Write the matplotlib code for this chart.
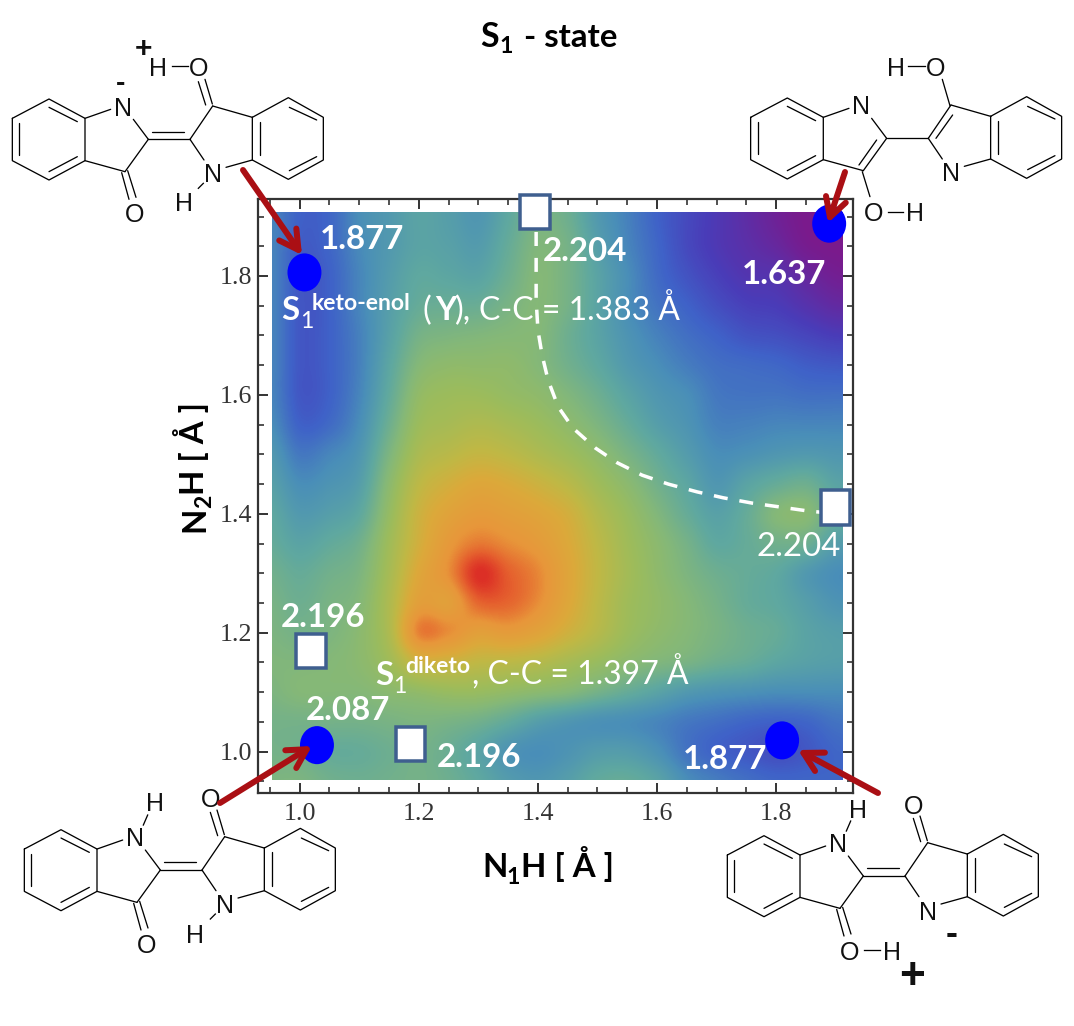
import numpy as np
import matplotlib
matplotlib.use('Agg')
import matplotlib.pyplot as plt
from matplotlib.colors import LinearSegmentedColormap
from matplotlib.patches import Ellipse, Rectangle
from matplotlib.ticker import MultipleLocator

# colour position of the surface, rows from N2H=1.90 down to N2H=0.95, columns N1H=0.95 to 1.90
surface = [
    [.28, .20, .21, .30, .34, .38, .36, .33, .40, .47, .44, .34, .27, .20, .15, .11, .07, .03, .00, .00],
    [.28, .19, .21, .29, .34, .38, .37, .35, .42, .49, .46, .36, .28, .21, .15, .11, .08, .05, .01, .00],
    [.28, .18, .20, .28, .35, .40, .39, .38, .44, .50, .46, .38, .30, .22, .17, .13, .10, .09, .05, .02],
    [.28, .18, .20, .28, .36, .42, .43, .43, .47, .50, .46, .38, .30, .24, .20, .16, .13, .12, .09, .06],
    [.28, .18, .20, .27, .37, .46, .48, .49, .50, .50, .44, .38, .32, .27, .23, .20, .17, .16, .14, .12],
    [.28, .18, .20, .27, .39, .50, .53, .53, .53, .50, .45, .40, .34, .30, .26, .23, .22, .21, .19, .18],
    [.28, .18, .20, .28, .41, .54, .57, .57, .55, .53, .49, .44, .38, .33, .30, .25, .24, .24, .23, .23],
    [.30, .20, .22, .30, .44, .57, .60, .62, .60, .57, .53, .48, .42, .36, .32, .27, .27, .28, .28, .28],
    [.34, .25, .28, .33, .48, .61, .65, .68, .66, .62, .58, .53, .47, .41, .35, .30, .31, .33, .34, .33],
    [.37, .30, .32, .36, .52, .66, .72, .76, .74, .70, .65, .58, .52, .45, .39, .33, .38, .42, .44, .38],
    [.40, .34, .36, .40, .55, .70, .78, .82, .80, .77, .72, .63, .56, .49, .42, .37, .42, .50, .51, .42],
    [.42, .38, .41, .45, .58, .72, .83, .89, .86, .82, .75, .66, .58, .52, .46, .40, .42, .45, .44, .36],
    [.45, .42, .45, .48, .60, .76, .86, 1.0, .93, .87, .77, .67, .59, .53, .48, .44, .42, .40, .34, .30],
    [.47, .44, .47, .50, .62, .80, .80, .92, .92, .86, .76, .66, .58, .54, .50, .46, .42, .40, .36, .32],
    [.48, .46, .48, .52, .62, .88, .86, .80, .82, .78, .71, .64, .57, .53, .50, .47, .44, .42, .38, .36],
    [.49, .49, .50, .52, .58, .70, .70, .67, .66, .64, .60, .56, .52, .49, .47, .44, .42, .39, .37, .36],
    [.48, .50, .50, .50, .52, .54, .56, .56, .54, .52, .50, .46, .42, .38, .34, .32, .31, .30, .30, .30],
    [.46, .46, .46, .46, .47, .48, .47, .45, .41, .36, .33, .31, .30, .28, .25, .23, .21, .20, .21, .24],
    [.46, .45, .42, .42, .44, .46, .43, .38, .32, .30, .32, .35, .35, .31, .24, .20, .18, .16, .18, .21],
    [.48, .48, .45, .44, .45, .46, .44, .40, .35, .33, .36, .41, .42, .38, .30, .26, .23, .21, .21, .21],
]
circle_x = [1.008, 1.889, 1.029, 1.810]
circle_y = [1.806, 1.888, 1.011, 1.019]
square_x = [1.395, 1.899, 1.019, 1.186]
square_y = [1.908, 1.411, 1.169, 1.013]
path_x = [1.397, 1.397, 1.400, 1.407, 1.417, 1.434, 1.459, 1.496, 1.533, 1.575, 1.619, 1.667, 1.711, 1.760, 1.803, 1.852, 1.882]
path_y = [1.874, 1.760, 1.709, 1.667, 1.625, 1.580, 1.544, 1.511, 1.486, 1.465, 1.450, 1.437, 1.427, 1.418, 1.412, 1.405, 1.402]

colors = [(0, '#7a1a8c'), (.12, '#4a3cb8'), (.2, '#3f62c8'), (.3, '#4a8fb8'), (.4, '#5fa8a0'),
          (.5, '#85b878'), (.57, '#9cbc5c'), (.67, '#c0b845'), (.75, '#dca93a'),
          (.85, '#e8963a'), (.93, '#e5602e'), (1, '#dc2f26')]
cmap = LinearSegmentedColormap.from_list('surf', colors)

W, H = 1074, 1026
SANS = 'Lato'
ATOM = 'Liberation Sans'


def pt(px):
    return px * 0.72


fig = plt.figure(figsize=(W / 100, H / 100), dpi=100)
ax = fig.add_axes([258 / W, 1 - 793 / H, 595 / W, 594 / H])
im = ax.imshow(surface, cmap=cmap, vmin=0, vmax=1, interpolation='catrom', aspect='auto',
               extent=[0.925, 1.925, 0.925, 1.925], zorder=1)
im.set_clip_path(Rectangle((0.953, 0.952), 0.958, 0.956, transform=ax.transData))
ax.set_xlim(0.930, 1.929)
ax.set_ylim(0.9305, 1.9295)
ax.xaxis.set_major_locator(MultipleLocator(0.2))
ax.yaxis.set_major_locator(MultipleLocator(0.2))
ax.xaxis.set_minor_locator(MultipleLocator(0.05))
ax.yaxis.set_minor_locator(MultipleLocator(0.05))
ax.tick_params(which='major', direction='in', top=True, right=True, length=7, width=1.4, color='#333333',
               labelsize=pt(26), labelcolor='#333333', pad=7)
ax.tick_params(axis='y', which='major', pad=4)
ax.tick_params(which='minor', direction='in', top=True, right=True, length=4, width=1.2, color='#333333')
for lab in ax.get_xticklabels() + ax.get_yticklabels():
    lab.set_family('Liberation Serif')
for s in ax.spines.values():
    s.set_linewidth(1.6)
    s.set_color('#333333')

ax.plot(path_x, path_y, color='white', lw=pt(3.5), dashes=(4, 3.4), zorder=3)
for x, y in zip(circle_x, circle_y):
    ax.add_patch(Ellipse((x, y), 0.057, 0.064, fc='#0000ff', ec='none', zorder=4))
for x, y in zip(square_x, square_y):
    ax.add_patch(Rectangle((x - 0.0245, y - 0.029), 0.049, 0.058, fc='white', ec='#3f5f8f',
                           lw=pt(3.5), zorder=4, clip_on=False))

# overlay in pixel coordinates for the drawn molecules and the annotations
ov = fig.add_axes([0, 0, 1, 1], zorder=5)
ov.set_xlim(0, W)
ov.set_ylim(H, 0)
ov.axis('off')
ov.patch.set_alpha(0)


def label(x, y, s, size=33, weight='bold', color='white', **kw):
    ov.text(x, y, s, fontsize=pt(size), fontweight=weight, color=color, family=SANS,
            ha=kw.pop('ha', 'left'), va='baseline', **kw)


def molecule(ox, oy, enol=False):
    # coordinates are taken from one crop of the reference at 3x
    segs = [
        [(37, 295), (147, 237), (255, 295), (255, 422), (147, 480), (37, 422), (37, 295)],
        [(58, 310), (58, 405)], [(147, 262), (232, 305)], [(147, 455), (232, 410)],
        [(255, 295), (332, 268)], [(400, 298), (445, 358)], [(255, 422), (375, 455)],
        [(445, 358), (375, 455)],
        [(570, 358), (638, 258)], [(638, 258), (757, 292)], [(570, 358), (612, 420)],
        [(678, 442), (757, 420)],
        [(757, 292), (865, 233), (970, 292), (970, 420), (865, 478), (757, 420), (757, 292)],
        [(780, 305), (780, 405)], [(868, 262), (950, 300)], [(868, 452), (950, 410)],
        [(445, 358), (570, 358)],
    ]
    if enol:
        segs += [[(415, 363), (362, 438)], [(593, 358), (643, 288)],
                 [(372, 458), (395, 533)], [(635, 260), (612, 181)]]
    else:
        segs += [[(455, 335), (552, 335)],
                 [(365, 458), (387, 538)], [(383, 452), (408, 532)],
                 [(617, 255), (595, 185)], [(637, 252), (615, 178)]]
    for seg in segs:
        xs = [ox + p[0] / 3 for p in seg]
        ys = [oy + p[1] / 3 for p in seg]
        ov.plot(xs, ys, color='black', lw=pt(1.3), solid_capstyle='round')


def atom(ox, oy, x, y, s, size=25, weight='normal'):
    ov.text(ox + x / 3, oy + y / 3, s, fontsize=pt(size), fontweight=weight, family=ATOM, color='#111111',
            ha='center', va='center_baseline')


def bond(ox, oy, x0, y0, x1, y1):
    ov.plot([ox + x0 / 3, ox + x1 / 3], [oy + y0 / 3, oy + y1 / 3], color='black', lw=pt(1.3))


# top left
m = (0, 20)
molecule(*m)
for x, y, s in [(368, 258, 'N'), (638, 458, 'N'), (405, 578, 'O'), (597, 138, 'O'), (473, 138, 'H'), (552, 545, 'H')]:
    atom(*m, x, y, s)
bond(*m, 515, 138, 565, 138)
bond(*m, 610, 490, 595, 505)
atom(*m, 430, 78, '+', size=30, weight='bold')
atom(*m, 362, 184, '-', size=28, weight='bold')

# top right
m = (738.3, 19)
molecule(*m, enol=True)
for x, y, s in [(368, 258, 'N'), (638, 458, 'N'), (405, 578, 'O'), (530, 578, 'H'), (593, 141, 'O'), (473, 141, 'H')]:
    atom(*m, x, y, s)
bond(*m, 510, 141, 560, 141)
bond(*m, 448, 578, 495, 578)

# bottom left
m = (12, 750.7)
molecule(*m)
for x, y, s in [(368, 258, 'N'), (638, 458, 'N'), (405, 578, 'O'), (595, 140, 'O'), (429, 153, 'H'), (550, 547, 'H')]:
    atom(*m, x, y, s)
bond(*m, 394, 223, 407, 193)
bond(*m, 610, 490, 595, 505)

# bottom right
m = (715, 756.7)
molecule(*m)
for x, y, s in [(368, 258, 'N'), (640, 460, 'N'), (405, 580, 'O'), (530, 580, 'H'), (595, 143, 'O'), (428, 155, 'H')]:
    atom(*m, x, y, s)
bond(*m, 394, 223, 407, 193)
bond(*m, 448, 580, 495, 580)
atom(*m, 590, 648, '+', size=44, weight='bold')
atom(*m, 710, 520, '-', size=36, weight='bold')

# arrows
for start, tip in [((243, 170), (302, 255)), ((845, 172), (828, 223)), ((220, 803), (312, 746)), ((878, 793), (798, 750))]:
    ov.annotate('', xy=tip, xytext=start,
                arrowprops=dict(arrowstyle='->,head_length=0.9,head_width=0.5', color='#aa0f14', lw=pt(6),
                                shrinkA=0, shrinkB=0, mutation_scale=15))

# title and axis labels
label(480, 47, 'S', size=34, color='black')
label(499, 53, '1', size=23, color='black')
label(524, 47, '- state', size=33, color='black')
label(482, 877, 'N', size=33, color='black')
label(506, 884, '1', size=23, color='black')
label(521, 877, 'H [ Å ]', size=33, color='black')
for y, s, size in [(532, 'N', 33), (508, '2', 23), (495, 'H [ Å ]', 33)]:
    x = 211 if s == '2' else 204
    ov.text(x, y, s, fontsize=pt(size), fontweight='bold', family=SANS, rotation=90,
            ha='left', va='baseline', rotation_mode='anchor')

# values on the map
label(320, 249, '1.877')
label(543, 261, '2.204')
label(742, 284, '1.637')
label(756, 556, '2.204', weight='normal')
label(281, 627, '2.196')
label(306, 720, '2.087')
label(437, 767, '2.196')
label(683, 769, '1.877')

label(281, 320, 'S')
label(300, 328, '1', size=23, weight='normal')
label(312, 310, 'keto-enol', size=23)
label(423, 320, '(', weight='normal')
label(435, 320, 'Y')
label(455, 320, '),', weight='normal')
label(479, 320, 'C-C = 1.383 Å', size=32, weight='normal')

label(375, 685, 'S')
label(393, 693, '1', size=23, weight='normal')
label(405, 673, 'diketo', size=23)
label(472, 685, ', C-C = 1.397 Å', size=32, weight='normal')

fig.savefig('out.png', dpi=100, facecolor='white')
